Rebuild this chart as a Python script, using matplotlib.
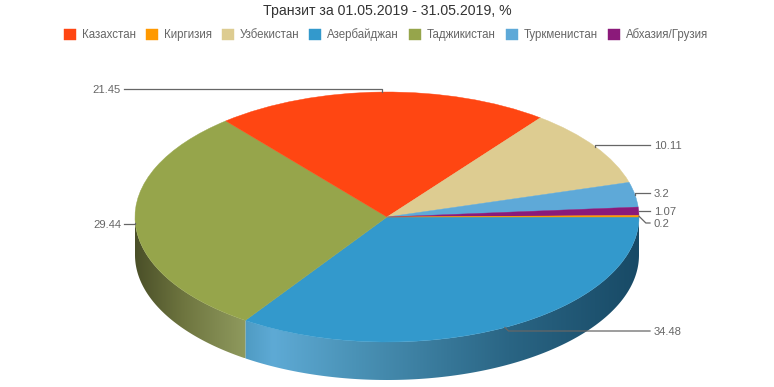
import matplotlib
matplotlib.use("Agg")
import matplotlib.pyplot as plt
from matplotlib.colors import LinearSegmentedColormap
from matplotlib.patches import Polygon
import numpy as np

plt.rcParams['font.family'] = ['Liberation Sans', 'DejaVu Sans']

title = "Транзит за 01.05.2019 - 31.05.2019, %"
countries = ["Казахстан", "Киргизия", "Узбекистан", "Азербайджан",
             "Таджикистан", "Туркменистан", "Абхазия/Грузия"]
values = [21.45, 0.2, 10.11, 34.48, 29.44, 3.2, 1.07]
colors = ["#FF4612", "#FF9900", "#DDCC91", "#3399CC",
          "#96A54B", "#5EA9D8", "#8B1A7A"]
# clockwise from 3 o'clock, the way the slices sit on the pie
draw_order = [3, 4, 0, 2, 5, 6, 1]
# y pixel of each value label, same order as countries
label_y = [89, 223, 145, 331, 224, 193, 211]

W, H = 774, 387
cx, cy, rx, ry, depth = 387, 217, 252, 125, 38

fig = plt.figure(figsize=(W / 100, H / 100), dpi=100)
ax = fig.add_axes([0, 0, 1, 1])

ordered = [values[i] for i in draw_order]
wedges, _ = ax.pie(ordered, colors=[colors[i] for i in draw_order], startangle=0,
                   counterclock=False, radius=1,
                   wedgeprops=dict(linewidth=0.3, zorder=3))
for w, i in zip(wedges, draw_order):
    w.set_edgecolor(colors[i])


def px(x, y):
    return (x - cx) / rx, (cy - y) / ry


# side wall, only the front part shows. stops run from the wedge's right end to its left
fracs = np.cumsum([0] + ordered) / sum(ordered)
walls = [
    (0, ["#184a66", "#2a6584", "#4a92b6", "#5eaad5", "#4f9bc3"], [0, .33, .72, .93, 1.0]),
    (1, ["#8f9a5e", "#6f7640", "#4a4f28"], [0, .55, 1.0]),
]
for k, grad, stops in walls:
    a0 = fracs[k] * 2 * np.pi
    a1 = min(fracs[k + 1] * 2 * np.pi, np.pi)
    t = np.linspace(a0, a1, 150)
    xs, ys = np.cos(t), -np.sin(t)
    dy = depth / ry
    pts = np.r_[np.c_[xs, ys], np.c_[xs[::-1], ys[::-1] - dy]]
    cmap = LinearSegmentedColormap.from_list("w", list(zip(stops, grad)))
    img = ax.imshow(np.linspace(1, 0, 256)[None, :], cmap=cmap, aspect='auto', zorder=1,
                    extent=[xs.min(), xs.max(), ys.min() - dy, ys.max()],
                    interpolation='bilinear', vmin=0, vmax=1)
    clip = Polygon(pts, closed=True, transform=ax.transData, fc='none', ec='none')
    ax.add_patch(clip)
    img.set_clip_path(clip)
ax.set_aspect('auto')
ax.set_xlim(*[px(v, 0)[0] for v in (0, W)])
ax.set_ylim(*[px(0, v)[1] for v in (H, 0)])

# value labels with leader lines
for w, i in zip(wedges, draw_order):
    mid = np.deg2rad((w.theta1 + w.theta2) / 2)
    x0, y0 = np.cos(mid), np.sin(mid)
    ly = px(0, label_y[i])[1]
    right = x0 > 0
    end = px(650 if right else 124, 0)[0]
    if abs(ly - y0) * ry > 2 and abs(x0) * rx > 10:
        knee = x0 + (0.012 if right else -0.012) * max(1, abs(ly - y0) * ry / 3)
    else:
        knee = x0
    ax.plot([x0, knee, end], [y0, ly, ly], color="#666666", lw=0.9, zorder=4,
            solid_joinstyle='round')
    ax.text(end + (4 if right else -3) / rx, ly, str(values[i]), color="#666666",
            fontsize=8.1, va='center_baseline', ha='left' if right else 'right', zorder=5)

fig.text(387 / W, 1 - 11 / H, title, ha='center', va='center', fontsize=10.2, color="#333333")

handles = [wedges[draw_order.index(i)] for i in range(len(countries))]
leg = ax.legend(handles, countries, ncols=7, frameon=False, fontsize=8.3,
                loc='center', bbox_to_anchor=(386 / W, 1 - 35 / H),
                handlelength=1.05, handleheight=1.05, handletextpad=0.52,
                columnspacing=0.85, labelcolor="#666666", borderpad=0)
ax.axis('off')

fig.savefig("out.png", dpi=100, facecolor='white')
